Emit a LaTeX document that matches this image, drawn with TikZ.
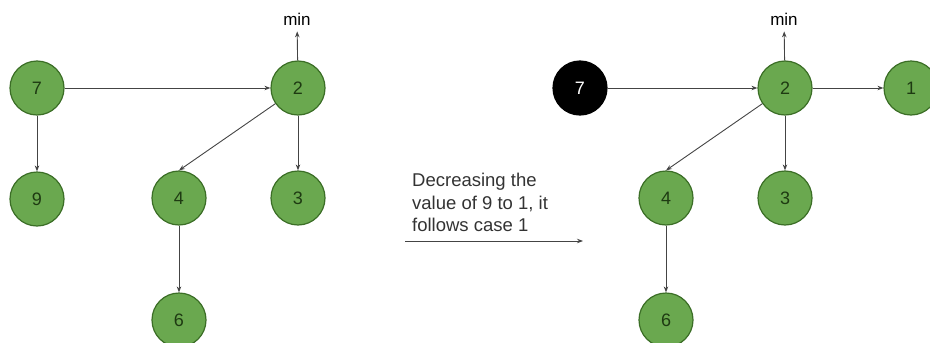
\documentclass[tikz,border=0pt]{standalone}
\usepackage{fontspec}
\setmainfont{Liberation Sans}
\usetikzlibrary{arrows.meta}
\definecolor{heapgreen}{HTML}{6AA84F}
\definecolor{heapedge}{HTML}{3B6E26}
\definecolor{heaptext}{HTML}{1E3A12}
\definecolor{linegray}{HTML}{444444}
\tikzset{
  heapnode/.style={circle, draw=heapedge, fill=heapgreen, line width=1.2pt,
    minimum size=54pt, inner sep=0pt, text=heaptext, font=\fontsize{18}{20}\selectfont},
  marked/.style={heapnode, fill=black, draw=black, text=white},
  minlabel/.style={inner sep=6pt, font=\fontsize{17}{20}\selectfont},
  link/.style={draw=linegray, line width=0.9pt, -{Stealth[length=6pt,width=4.5pt]}},
}
\begin{document}
\begin{tikzpicture}[x=1pt,y=-1pt]
  \useasboundingbox (0,0) rectangle (930,343);

  \node[heapnode] (a7) at (37,88) {7};
  \node[heapnode] (a2) at (298,88) {2};
  \node[heapnode] (a9) at (37,199) {9};
  \node[heapnode] (a4) at (179,198) {4};
  \node[heapnode] (a3) at (298,198) {3};
  \node[heapnode] (a6) at (179,320) {6};
  \node[minlabel] (amin) at (297,19) {min};

  \draw[link] (a7) -- (a2);
  \draw[link] (a7) -- (a9);
  \draw[link] (a2) -- (a4.north);
  \draw[link] (a2) -- (a3);
  \draw[link] (a4) -- (a6);
  \draw[link] (a2) -- (amin);

  \node[anchor=north west, inner sep=0pt, align=left, text=black!80,
    font=\fontsize{18.5}{22.5}\selectfont] (caption) at (412,173)
    {Decreasing the\\value of 9 to 1, it\\follows case 1};
  \coordinate (stepfrom) at (405,241);
  \coordinate (stepto) at (583,241);
  \draw[link] (stepfrom) -- (stepto);

  \node[marked] (b7) at (580,88) {7};
  \node[heapnode] (b2) at (785,88) {2};
  \node[heapnode] (b1) at (911,88) {1};
  \node[heapnode] (b4) at (666,198) {4};
  \node[heapnode] (b3) at (785,198) {3};
  \node[heapnode] (b6) at (666,320) {6};
  \node[minlabel] (bmin) at (784,19) {min};

  \draw[link] (b7) -- (b2);
  \draw[link] (b2) -- (b1);
  \draw[link] (b2) -- (b4.north);
  \draw[link] (b2) -- (b3);
  \draw[link] (b4) -- (b6);
  \draw[link] (b2) -- (bmin);
\end{tikzpicture}
\end{document}
